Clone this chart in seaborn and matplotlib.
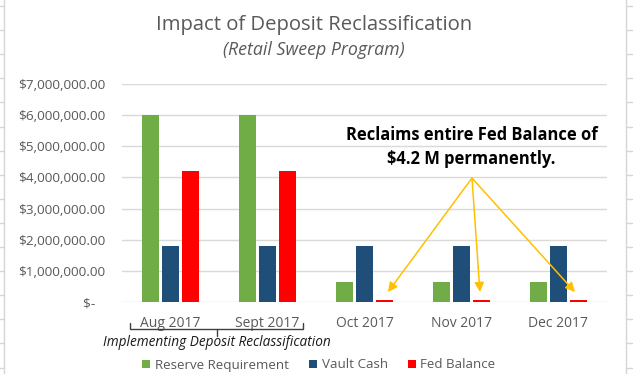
import numpy as np
import pandas as pd
import matplotlib
matplotlib.use("Agg")
import matplotlib.pyplot as plt
import matplotlib.transforms as mtransforms
from matplotlib.patches import Patch
from matplotlib.lines import Line2D
from matplotlib.ticker import FuncFormatter, FixedLocator
import seaborn as sns

# ---- data ----
months = ["Aug 2017", "Sept 2017", "Oct 2017", "Nov 2017", "Dec 2017"]
series_names = ["Reserve Requirement", "Vault Cash", "Fed Balance"]
reserve_requirement = [6000000, 6000000, 650000, 650000, 650000]
vault_cash = [1800000, 1800000, 1800000, 1800000, 1800000]
fed_balance = [4200000, 4200000, 50000, 50000, 50000]
series_colors = ["#70AD47", "#1F4E79", "#FF0000"]
y_ticks = [0, 1000000, 2000000, 3000000, 4000000, 5000000, 6000000, 7000000]

df = pd.DataFrame({
    "Month": months * 3,
    "Series": [series_names[0]] * 5 + [series_names[1]] * 5 + [series_names[2]] * 5,
    "Value": reserve_requirement + vault_cash + fed_balance,
})

sns.set_theme(style="white")
plt.rcParams["font.family"] = ["Open Sans", "DejaVu Sans"]

W, H = 633, 374
fig = plt.figure(figsize=(W / 100, H / 100), dpi=100)
fig.patch.set_facecolor("white")

# spreadsheet cell lines in the background
grid_c = "#D6D6D6"
fig.add_artist(Line2D([4 / W, 4 / W], [0, 1], color=grid_c, lw=1))
fig.add_artist(Line2D([626 / W, 626 / W], [0, 1], color=grid_c, lw=1))
for k in range(16):
    yy = 1 - (6 + 24.1 * k) / H
    fig.add_artist(Line2D([0, 4 / W], [yy, yy], color=grid_c, lw=1))
    fig.add_artist(Line2D([626 / W, 1], [yy, yy], color=grid_c, lw=1))

ax = fig.add_axes([122 / W, 1 - 302 / H, 485 / W, 218 / H])
sns.barplot(data=df, x="Month", y="Value", hue="Series", palette=series_colors,
            width=0.62, gap=0.11, saturation=1, errorbar=None, legend=False, ax=ax,
            edgecolor="none", linewidth=0)

ax.set_xlim(-0.5, 4.5)
ax.set_ylim(0, 7000000)
ax.yaxis.set_major_locator(FixedLocator(y_ticks))
ax.yaxis.set_major_formatter(FuncFormatter(lambda v, p: "$-   " if v == 0 else f"${v:,.2f}"))
ax.grid(axis="y", color="#D9D9D9", lw=1)
ax.set_axisbelow(True)
for s in ax.spines.values():
    s.set_visible(False)
ax.tick_params(axis="both", length=0, colors="#595959", labelsize=9.7)
ax.tick_params(axis="x", labelsize=10, pad=10)
ax.tick_params(axis="y", pad=12)
ax.set_xlabel("")
ax.set_ylabel("")

# titles
fig.text(314 / W, 1 - 25 / H, "Impact of Deposit Reclassification", ha="center", va="center",
         fontsize=14.6, color="#595959")
fig.text(314 / W, 1 - 50 / H, "(Retail Sweep Program)", ha="center", va="center",
         fontsize=12.8, style="italic", color="#595959")

# annotation text
fig.text(471.5 / W, 1 - 147 / H, "Reclaims entire Fed Balance of\n$4.2 M permanently.",
         ha="center", va="center", fontsize=11.9, fontweight="bold", color="black",
         linespacing=1.4)

# arrows
start = (3.108, 3980000)
for tip in [(2.242, 320000), (3.19, 320000), (4.17, 320000)]:
    ax.annotate("", xy=tip, xytext=start,
                arrowprops=dict(arrowstyle="-|>", color="#FFC000", lw=1.1,
                                mutation_scale=14, shrinkA=0, shrinkB=0))

# bracket under first two months
tr = mtransforms.blended_transform_factory(ax.transData, ax.transAxes)
bc = "#404040"
ax.plot([-0.4175, -0.4175, 1.366, 1.366], [-0.096, -0.124, -0.124, -0.096],
        color=bc, lw=1, transform=tr, clip_on=False)
ax.plot([0.479, 0.479], [-0.124, -0.156], color=bc, lw=1, transform=tr, clip_on=False)
fig.text(217 / W, 1 - 343 / H, "Implementing Deposit Reclassification", ha="center", va="center",
         fontsize=9.8, style="italic", color="#1a1a1a")

# legend
handles = [Patch(facecolor=c, edgecolor="none") for c in series_colors]
fig.legend(handles, series_names, loc="center", bbox_to_anchor=(319 / W, 1 - 365 / H),
           ncol=3, frameon=False, fontsize=9.6, handlelength=0.6, handleheight=0.6,
           handletextpad=0.35, columnspacing=1.5, labelcolor="#595959", borderpad=0,
           borderaxespad=0)

fig.savefig("out.png", dpi=100, facecolor="white")
